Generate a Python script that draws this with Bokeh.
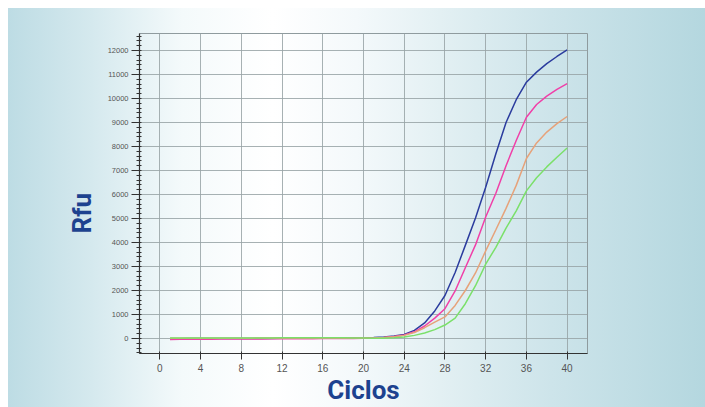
from bokeh.plotting import figure
from bokeh.models import SingleIntervalTicker, Range1d, Title
from bokeh.embed import file_html
from bokeh.resources import INLINE

cycles = list(range(1, 41))

blue = [-10, -10, -5, -5, 0, 0, 0, 5, 5, 5, 5, 10, 10, 10, 10, 15, 15, 20, 20, 25,
        40, 60, 100, 170, 340, 650, 1150, 1790, 2750, 3880, 5020, 6300, 7700, 9000, 9950,
        10680, 11100, 11450, 11750, 12030]
magenta = [-40, -35, -35, -30, -30, -25, -25, -20, -20, -20, -15, -15, -10, -10, -10, -5, -5, 0, 0, 10,
           20, 40, 80, 150, 280, 520, 850, 1240, 1980, 2950, 3900, 5060, 6050, 7200, 8250,
           9220, 9750, 10100, 10380, 10620]
orange = [10, 10, 10, 10, 15, 15, 15, 15, 15, 20, 20, 20, 20, 20, 20, 25, 25, 25, 25, 25,
          20, 40, 70, 130, 250, 450, 680, 900, 1380, 2000, 2730, 3650, 4530, 5420, 6380,
          7500, 8150, 8600, 8950, 9250]
green = [20, 20, 20, 20, 20, 25, 25, 25, 25, 25, 25, 30, 30, 30, 30, 30, 30, 30, 25, 20,
         10, 10, 30, 60, 130, 230, 370, 560, 850, 1450, 2200, 3100, 3800, 4600, 5320,
         6150, 6700, 7150, 7550, 7940]

series = [(blue, "#2b3c9e"), (magenta, "#f040a8"), (orange, "#e6a27a"), (green, "#7be06a")]

x_label = "Ciclos"
y_label = "Rfu"

p = figure(width=705, height=407, output_backend="svg", toolbar_location=None,
           x_range=Range1d(-2, 42), y_range=Range1d(-625, 12708),
           min_border_left=139, min_border_right=118, min_border_top=33, min_border_bottom=54)

p.styles = {
    "background-color": "white",
    "background-image": "linear-gradient(to right, #bddce4 0%, #d5e9ee 12%, #f4fafb 25%, #ffffff 38%, #f4f9fb 50%, #e3f0f3 62%, #cde4ea 78%, #b4d7df 100%)",
    "background-repeat": "no-repeat",
    "background-position": "8px 8px",
    "background-size": "697px 399px",
}
p.background_fill_color = None
p.border_fill_color = None
p.outline_line_color = "#8f9b9e"
p.outline_line_width = 1

for ys, col in series:
    p.line(cycles, ys, line_color=col, line_width=1.5)

p.xaxis.ticker = SingleIntervalTicker(interval=4, num_minor_ticks=0)
p.yaxis.ticker = SingleIntervalTicker(interval=1000, num_minor_ticks=5)

for ax in (p.xaxis[0], p.yaxis[0]):
    ax.axis_line_color = "#333333"
    ax.axis_line_width = 1.2
    ax.major_tick_line_color = "#333333"
    ax.minor_tick_line_color = "#333333"
    ax.major_label_text_color = "#555555"
    ax.major_label_text_font = "Liberation Sans"

p.xaxis.major_tick_out = 6
p.xaxis.major_tick_in = 2
p.xaxis.minor_tick_out = 0
p.xaxis.minor_tick_in = 0
p.xaxis.major_label_standoff = 4
p.xaxis.major_label_text_font_size = "10px"
p.xaxis.axis_label = x_label
p.xaxis.axis_label_standoff = 0
p.xaxis.axis_label_text_font = "Roboto"
p.xaxis.axis_label_text_font_style = "bold"
p.xaxis.axis_label_text_font_size = "26px"
p.xaxis.axis_label_text_color = "#1d428f"

p.yaxis.major_tick_out = 8
p.yaxis.major_tick_in = 0
p.yaxis.minor_tick_out = 3
p.yaxis.minor_tick_in = 2
p.yaxis.major_label_standoff = 3
p.yaxis.major_label_text_font_size = "7.5px"

p.xgrid.ticker = p.xaxis[0].ticker
p.ygrid.ticker = p.yaxis[0].ticker
p.grid.grid_line_color = "#98a3a6"
p.grid.grid_line_alpha = 0.85
p.grid.grid_line_width = 1

p.add_layout(Title(text=y_label, align="left", offset=120, text_font="Roboto",
                   text_font_style="bold", text_font_size="26px", text_color="#1d428f",
                   standoff=16), "left")

open("out.html", "w").write(file_html(p, INLINE))
